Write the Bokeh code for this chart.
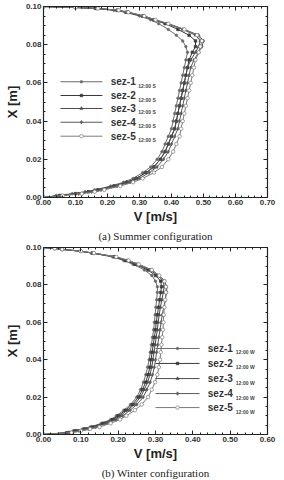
from bokeh.plotting import figure
from bokeh.models import (Range1d, LinearAxis, FixedTicker, PrintfTickFormatter, Title,
                          ColumnDataSource, CustomJSTickFormatter)
from bokeh.layouts import column
from bokeh.core.properties import value
from bokeh.embed import file_html
from bokeh.resources import INLINE

# ---------------- data ----------------
X_grid = [0.000, 0.001, 0.002, 0.003, 0.004, 0.006, 0.008, 0.010, 0.013, 0.016,
          0.020, 0.024, 0.028, 0.032, 0.036, 0.040, 0.044, 0.048, 0.052, 0.056,
          0.060, 0.064, 0.068, 0.072, 0.076, 0.079, 0.082, 0.085, 0.088, 0.091,
          0.093, 0.095, 0.097, 0.098, 0.099, 0.0995, 0.100]

series_names = ["sez-1", "sez-2", "sez-3", "sez-4", "sez-5"]

summer_sez1 = [0.00, 0.04, 0.09, 0.13, 0.16, 0.21, 0.25, 0.28, 0.31, 0.335, 0.355, 0.37, 0.38, 0.39, 0.40,
               0.405, 0.41, 0.415, 0.42, 0.425, 0.43, 0.435, 0.44, 0.445, 0.45, 0.445, 0.435, 0.415, 0.39,
               0.36, 0.335, 0.30, 0.255, 0.22, 0.16, 0.10, 0.00]
summer_sez2 = [0.00, 0.05, 0.10, 0.14, 0.17, 0.22, 0.26, 0.29, 0.32, 0.345, 0.365, 0.38, 0.39, 0.40, 0.41,
               0.415, 0.42, 0.425, 0.43, 0.435, 0.44, 0.445, 0.45, 0.455, 0.465, 0.475, 0.475, 0.455, 0.42,
               0.38, 0.345, 0.31, 0.26, 0.23, 0.165, 0.10, 0.00]
summer_sez3 = [0.00, 0.05, 0.10, 0.14, 0.17, 0.22, 0.26, 0.29, 0.32, 0.345, 0.365, 0.38, 0.39, 0.40, 0.41,
               0.415, 0.42, 0.425, 0.43, 0.435, 0.44, 0.445, 0.45, 0.46, 0.475, 0.485, 0.49, 0.475, 0.435,
               0.385, 0.345, 0.31, 0.26, 0.23, 0.165, 0.10, 0.00]
summer_sez4 = [0.00, 0.055, 0.11, 0.15, 0.18, 0.23, 0.27, 0.30, 0.33, 0.355, 0.375, 0.39, 0.40, 0.41, 0.42,
               0.425, 0.43, 0.435, 0.44, 0.445, 0.45, 0.455, 0.46, 0.47, 0.485, 0.495, 0.50, 0.485, 0.44,
               0.39, 0.35, 0.315, 0.265, 0.235, 0.17, 0.10, 0.00]
summer_sez5 = [0.00, 0.06, 0.12, 0.16, 0.19, 0.24, 0.28, 0.31, 0.345, 0.37, 0.39, 0.405, 0.415, 0.425, 0.43,
               0.435, 0.44, 0.445, 0.45, 0.455, 0.46, 0.465, 0.47, 0.475, 0.485, 0.49, 0.495, 0.48, 0.44,
               0.39, 0.35, 0.315, 0.265, 0.235, 0.17, 0.10, 0.00]

winter_sez1 = [0.00, 0.06, 0.08, 0.105, 0.125, 0.155, 0.18, 0.195, 0.215, 0.233, 0.25, 0.26, 0.268, 0.274,
               0.279, 0.283, 0.286, 0.289, 0.292, 0.295, 0.297, 0.299, 0.301, 0.303, 0.305, 0.305, 0.30,
               0.29, 0.27, 0.24, 0.215, 0.185, 0.13, 0.10, 0.05, 0.03, 0.00]
winter_sez2 = [0.00, 0.065, 0.085, 0.11, 0.13, 0.16, 0.185, 0.20, 0.22, 0.238, 0.255, 0.265, 0.274, 0.28,
               0.285, 0.288, 0.291, 0.294, 0.297, 0.30, 0.302, 0.305, 0.308, 0.311, 0.314, 0.316, 0.314,
               0.30, 0.28, 0.245, 0.22, 0.19, 0.13, 0.10, 0.05, 0.03, 0.00]
winter_sez3 = [0.00, 0.07, 0.09, 0.115, 0.135, 0.165, 0.19, 0.205, 0.225, 0.243, 0.26, 0.27, 0.279, 0.285,
               0.29, 0.293, 0.296, 0.299, 0.302, 0.305, 0.307, 0.31, 0.313, 0.317, 0.321, 0.323, 0.321,
               0.306, 0.285, 0.25, 0.225, 0.19, 0.135, 0.10, 0.05, 0.03, 0.00]
winter_sez4 = [0.00, 0.07, 0.095, 0.12, 0.14, 0.17, 0.195, 0.212, 0.232, 0.25, 0.267, 0.277, 0.286, 0.292,
               0.297, 0.30, 0.303, 0.306, 0.309, 0.312, 0.315, 0.318, 0.322, 0.326, 0.33, 0.33, 0.325,
               0.31, 0.29, 0.255, 0.228, 0.195, 0.135, 0.10, 0.05, 0.03, 0.00]
winter_sez5 = [0.00, 0.075, 0.10, 0.125, 0.15, 0.18, 0.205, 0.222, 0.245, 0.263, 0.28, 0.29, 0.299, 0.305,
               0.309, 0.312, 0.314, 0.316, 0.318, 0.32, 0.321, 0.322, 0.324, 0.326, 0.328, 0.328, 0.324,
               0.31, 0.29, 0.255, 0.228, 0.195, 0.135, 0.10, 0.05, 0.03, 0.00]

summer_series = [summer_sez1, summer_sez2, summer_sez3, summer_sez4, summer_sez5]
winter_series = [winter_sez1, winter_sez2, winter_sez3, winter_sez4, winter_sez5]

summer_sub = "12:00 S"
winter_sub = "12:00 W"
x_ticks_summer = [0.0, 0.1, 0.2, 0.3, 0.4, 0.5, 0.6, 0.7]
x_ticks_winter = [0.0, 0.1, 0.2, 0.3, 0.4, 0.5, 0.6]
y_ticks = [0.00, 0.02, 0.04, 0.06, 0.08, 0.10]

# ---------------- styles ----------------
line_colors = ["#6a6a6a", "#3a3a3a", "#4a4a4a", "#5a5a5a", "#7a7a7a"]
markers = ["circle", "square", "triangle", "diamond", "circle"]
marker_sizes = [2.5, 2.5, 3, 3.5, 3.5]
marker_fill = [True, True, True, True, False]

FONT = "Liberation Sans"
AX = "#222222"


def minor_between(ticks, n):
    out = []
    for a, b in zip(ticks[:-1], ticks[1:]):
        for k in range(1, n):
            out.append(a + (b - a) * k / n)
    return out


def make_ticker(ticks, n):
    return FixedTicker(ticks=ticks, minor_ticks=minor_between(ticks, n))


def style_axis(ax):
    ax.major_tick_in = 4
    ax.major_tick_out = 0
    ax.minor_tick_in = 2
    ax.minor_tick_out = 0
    ax.axis_line_color = AX
    ax.axis_line_width = 1.2
    ax.major_tick_line_color = AX
    ax.minor_tick_line_color = AX


def style_axes(p, xticks):
    p.xaxis.ticker = make_ticker(xticks, 5)
    p.yaxis.ticker = make_ticker(y_ticks, 4)
    p.xaxis.formatter = PrintfTickFormatter(format="%.2f")
    p.yaxis.formatter = PrintfTickFormatter(format="%.2f")
    for ax in [p.xaxis[0], p.yaxis[0]]:
        style_axis(ax)
        ax.major_label_text_font = FONT
        ax.major_label_text_font_style = "bold"
        ax.major_label_text_font_size = "8px"
        ax.major_label_text_color = "#333333"
        ax.axis_label_text_font = FONT
        ax.axis_label_text_font_style = "bold"
        ax.axis_label_text_font_size = "13px"
        ax.axis_label_text_color = AX
    p.xaxis.major_label_standoff = 2
    p.yaxis.major_label_standoff = 2
    p.xaxis.axis_label_standoff = 1
    p.yaxis.axis_label_standoff = 3
    blank = CustomJSTickFormatter(code="return ''")
    top = LinearAxis(ticker=make_ticker(xticks, 5), formatter=blank,
                     major_label_standoff=0)
    right = LinearAxis(ticker=make_ticker(y_ticks, 4), formatter=blank,
                       major_label_standoff=0)
    style_axis(top)
    style_axis(right)
    p.add_layout(top, "above")
    p.add_layout(right, "right")
    p.xgrid.visible = False
    p.ygrid.visible = False
    p.outline_line_color = AX


def make_plot(series, xticks, width, height, borders, caption, sub, leg):
    p = figure(width=width, height=height, output_backend="svg", toolbar_location=None,
               x_range=Range1d(xticks[0], xticks[-1]), y_range=Range1d(y_ticks[0], y_ticks[-1]),
               min_border_left=borders[0], min_border_right=borders[1],
               min_border_top=borders[2], min_border_bottom=borders[3])
    p.xaxis.axis_label = "V [m/s]"
    p.yaxis.axis_label = "X [m]"
    style_axes(p, xticks)
    for i, vals in enumerate(series):
        src = ColumnDataSource(dict(v=vals, x=X_grid))
        p.line("v", "x", source=src, line_color=line_colors[i], line_width=1)
        p.scatter("v", "x", source=src, marker=markers[i], size=marker_sizes[i],
                  line_color=line_colors[i],
                  fill_color=line_colors[i] if marker_fill[i] else "white", line_width=0.7)
    # manual legend
    lx0, lx1, tx, sx, rows = leg
    for i, name in enumerate(series_names):
        yy = rows[i]
        p.line([lx0, lx1], [yy, yy], line_color=line_colors[i], line_width=1)
        p.scatter([(lx0 + lx1) / 2], [yy], marker=markers[i], size=marker_sizes[i],
                  line_color=line_colors[i],
                  fill_color=line_colors[i] if marker_fill[i] else "white", line_width=0.7)
        p.text([tx], [yy], text=[name], text_font=value(FONT), text_font_style="bold",
               text_font_size="10px", text_baseline="middle", text_color="#333333")
        p.text([sx], [yy], text=[sub], text_font=value(FONT), text_font_style="bold",
               text_font_size="5px", text_baseline="top", text_color="#444444",
               y_offset=1)
    cap = Title(text=caption, align="center", text_font="Liberation Serif",
                text_font_style="normal", text_font_size="11px", text_color=AX,
                standoff=2)
    p.add_layout(cap, "below")
    return p


summer_leg = (0.053, 0.184, 0.21, 0.296, [0.0606, 0.0534, 0.0466, 0.0394, 0.0321])
winter_leg = (0.30, 0.418, 0.44, 0.515, [0.046, 0.038, 0.0299, 0.0219, 0.0144])

p1 = make_plot(summer_series, x_ticks_summer, 284, 242, (43, 17, 6, 43), "(a) Summer configuration",
               summer_sub, summer_leg)
p2 = make_plot(winter_series, x_ticks_winter, 284, 238, (41, 13, 5, 46), "(b) Winter configuration",
               winter_sub, winter_leg)

layout = column(p1, p2, spacing=0)
open("out.html", "w").write(file_html(layout, INLINE))
